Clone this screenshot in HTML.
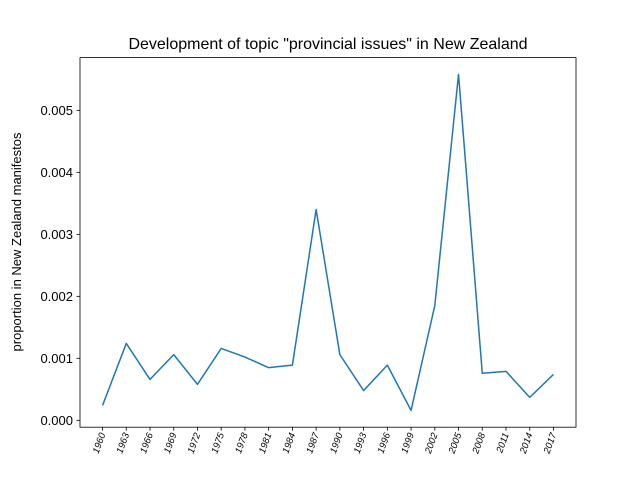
<!DOCTYPE html>
<html><head><meta charset="utf-8"><style>
body{margin:0;background:#fff;}
svg{font-family:"Liberation Sans","DejaVu Sans",sans-serif;}
</style></head><body>
<svg id="chart" width="640" height="480" viewBox="0 0 640 480" xmlns="http://www.w3.org/2000/svg">
<rect width="640" height="480" fill="#fff"/>
<text x="328" y="49" font-size="16" text-anchor="middle">Development of topic "provincial issues" in New Zealand</text>
<text transform="translate(21,242) rotate(-90)" font-size="13" text-anchor="middle">proportion in New Zealand manifestos</text>
<g id="xticks"></g>
<g id="yticks"></g>
<path id="line" fill="none" stroke="#1f77b4" stroke-width="1.5" stroke-linejoin="round"/>
<rect x="80" y="57.6" width="496" height="369.6" fill="none" stroke="#000" stroke-width="0.8"/>
</svg>
<script>
const categories = ["1960","1963","1966","1969","1972","1975","1978","1981","1984","1987","1990","1993","1996","1999","2002","2005","2008","2011","2014","2017"];
const values = [0.00024,0.00124,0.00066,0.00106,0.00058,0.00116,0.00102,0.00085,0.00089,0.0034,0.00106,0.00048,0.00089,0.00016,0.00185,0.00558,0.00076,0.00079,0.00037,0.00074];
const yTicks = [0,0.001,0.002,0.003,0.004,0.005];
const yTickLabels = ["0.000","0.001","0.002","0.003","0.004","0.005"];

const NS="http://www.w3.org/2000/svg";
const L=80,R=576,T=57.6,B=427.2;
const n=categories.length;
const span=(n-1)*1.1;
function xPos(i){return L+(i+(n-1)*0.05)/span*(R-L);}
const vmin=Math.min(...values),vmax=Math.max(...values);
const ylo=vmin-(vmax-vmin)*0.05, yhi=vmax+(vmax-vmin)*0.05;
function yPos(v){return B-(v-ylo)/(yhi-ylo)*(B-T);}

const xg=document.getElementById('xticks');
categories.forEach((c,i)=>{
  const x=xPos(i);
  const t=document.createElementNS(NS,'line');
  t.setAttribute('x1',x);t.setAttribute('x2',x);t.setAttribute('y1',B);t.setAttribute('y2',B+3.5);
  t.setAttribute('stroke','#000');t.setAttribute('stroke-width','0.8');
  
  
  xg.appendChild(t);
  const tx=document.createElementNS(NS,'text');
  tx.setAttribute('transform',`translate(${x+3},${B+7}) rotate(-70)`);
  tx.setAttribute('font-size','9.5');tx.setAttribute('font-style','italic');tx.setAttribute('text-anchor','end');
  tx.textContent=c;
  
  
  xg.appendChild(tx);
});
const yg=document.getElementById('yticks');
yTicks.forEach((v,i)=>{
  const y=yPos(v);
  const t=document.createElementNS(NS,'line');
  t.setAttribute('x1',L-3.5);t.setAttribute('x2',L);t.setAttribute('y1',y);t.setAttribute('y2',y);
  t.setAttribute('stroke','#000');t.setAttribute('stroke-width','0.8');
  
  
  yg.appendChild(t);
  const tx=document.createElementNS(NS,'text');
  tx.setAttribute('x',L-7);tx.setAttribute('y',y+4.5);
  tx.setAttribute('font-size','13');tx.setAttribute('text-anchor','end');
  tx.textContent=yTickLabels[i];
  
  
  yg.appendChild(tx);
});
document.getElementById('line').setAttribute('d',values.map((v,i)=>(i?'L':'M')+xPos(i).toFixed(2)+','+yPos(v).toFixed(2)).join(' '));
</script>
</body></html>
